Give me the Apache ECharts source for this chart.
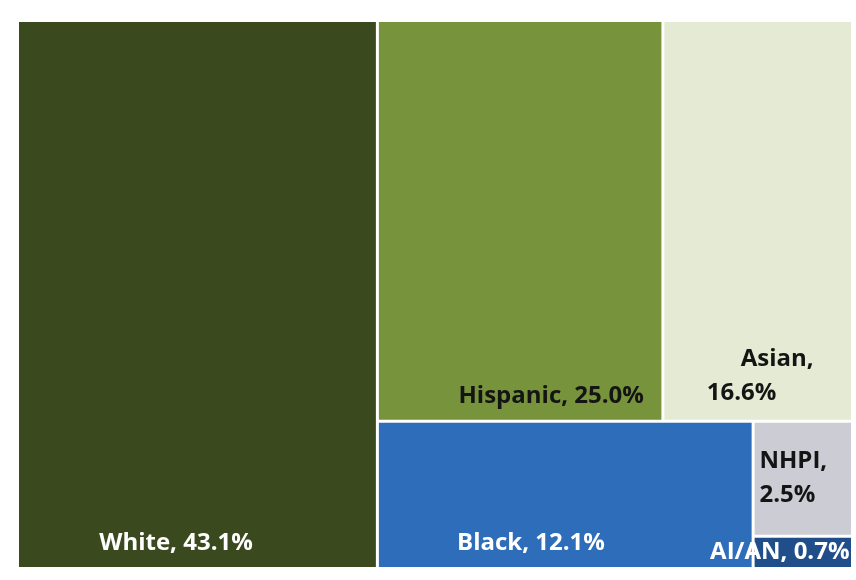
<!DOCTYPE html>
<html>
<head>
<meta charset="utf-8">
<script src="https://cdn.jsdelivr.net/npm/echarts@6/dist/echarts.min.js"></script>
<style>html,body{margin:0;padding:0;background:#fff}#c{width:856px;height:580px}</style>
</head>
<body>
<div id="c"></div>
<script>
var categories = ['White', 'Hispanic', 'Asian', 'Black', 'NHPI', 'AI/AN'];
var shares = [43.1, 25.0, 16.6, 12.1, 2.5, 0.7];

var fillColors = ['#3b4a1e', '#77933c', '#e4ead4', '#2e6dba', '#cbccd4', '#1f4e8a'];
var textColors = ['#ffffff', '#141414', '#141414', '#ffffff', '#141414', '#ffffff'];
var labelPos = [['44%', '93%'], ['61%', '90.6%'], ['22.7%', '80.6%'], ['40.8%', '73.5%'], ['5%', '19.5%'], ['98.5%', '0%']];
var labelAlign = ['center', 'center', 'left', 'center', 'left', 'right'];
var twoLine = [false, false, true, false, true, false];

var FONT = '"Open Sans", Lato, sans-serif';
var FS = 24;

function richStyle(color, lh, padLeft) {
  return { fontFamily: FONT, fontWeight: 'bold', fontSize: FS, color: color, lineHeight: lh, padding: [0, 0, 0, padLeft || 0] };
}

var data = categories.map(function (name, i) {
  var txt = twoLine[i]
    ? '{a|' + name + ',}\n{b|' + shares[i].toFixed(1) + '%}'
    : '{s|' + name + ', ' + shares[i].toFixed(1) + '%}';
  return {
    name: name,
    value: shares[i],
    itemStyle: { color: fillColors[i] },
    label: {
      show: true,
      position: labelPos[i],
      align: labelAlign[i],
      verticalAlign: 'top',
      color: textColors[i],
      overflow: 'none',
      formatter: function () { return txt; },
      rich: {
        a: richStyle(textColors[i], 34, i === 2 ? 34 : 0),
        b: richStyle(textColors[i], 34, 0),
        s: richStyle(textColors[i], 28, 0)
      }
    }
  };
});

var chart = echarts.init(document.getElementById('c'), null, { renderer: 'canvas' });
chart.setOption({
  animation: false,
  series: [{
    type: 'treemap',
    left: 19, top: 22, width: 832, height: 545,
    roam: false,
    nodeClick: false,
    squareRatio: 1.2,
    breadcrumb: { show: false },
    label: { fontFamily: FONT, fontWeight: 'bold', fontSize: FS, padding: 0 },
    levels: [{ itemStyle: { gapWidth: 3, borderWidth: 0 } }],
    data: data
  }]
});
</script>
</body>
</html>
